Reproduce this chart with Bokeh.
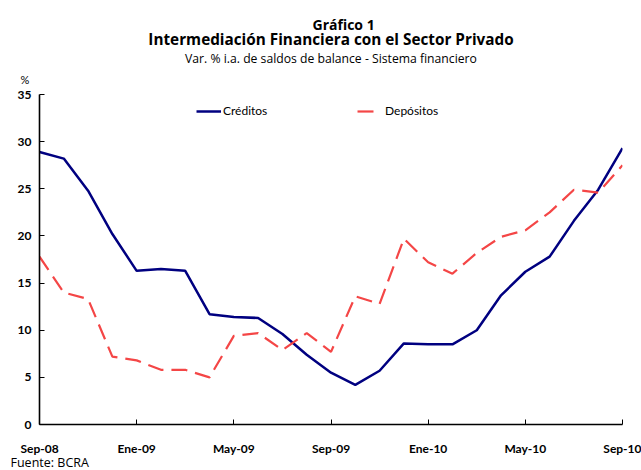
from bokeh.plotting import figure
from bokeh.models import Range1d, FixedTicker, Legend, LegendItem, Title
from bokeh.embed import file_html
from bokeh.resources import INLINE

# ---- data ----
meses = ["Sep-08", "Oct-08", "Nov-08", "Dic-08", "Ene-09", "Feb-09", "Mar-09",
         "Abr-09", "May-09", "Jun-09", "Jul-09", "Ago-09", "Sep-09", "Oct-09",
         "Nov-09", "Dic-09", "Ene-10", "Feb-10", "Mar-10", "Abr-10", "May-10",
         "Jun-10", "Jul-10", "Ago-10", "Sep-10"]
creditos = [28.9, 28.2, 24.8, 20.2, 16.3, 16.5, 16.3, 11.7, 11.4, 11.3, 9.6,
            7.4, 5.5, 4.2, 5.7, 8.6, 8.5, 8.5, 10.0, 13.7, 16.2, 17.8, 21.6,
            24.9, 29.3]
depositos = [17.8, 14.0, 13.3, 7.2, 6.8, 5.8, 5.8, 5.0, 9.4, 9.7, 7.9, 9.7,
             7.7, 13.6, 12.8, 19.7, 17.2, 16.0, 18.2, 19.9, 20.6, 22.5, 24.9,
             24.6, 27.5]
x_tick_labels = ["Sep-08", "Ene-09", "May-09", "Sep-09", "Ene-10", "May-10", "Sep-10"]
y_ticks = [0, 5, 10, 15, 20, 25, 30, 35]

FONT = "Lato"
TFONT = "Open Sans"
BLUE = "#000080"
RED = "#f44646"

x = list(range(len(meses)))
x_ticks = [meses.index(t) for t in x_tick_labels]

p = figure(width=641, height=470, output_backend="svg", toolbar_location=None,
           x_range=Range1d(0, len(meses) - 1), y_range=Range1d(0, 35),
           min_border_left=39, min_border_right=19, min_border_top=94,
           min_border_bottom=46)
p.outline_line_color = None
p.xgrid.visible = False
p.ygrid.visible = False
p.background_fill_color = "white"
p.border_fill_color = "white"

r1 = p.line(x, creditos, line_color=BLUE, line_width=2.5)
r2 = p.line(x, depositos, line_color=RED, line_width=2.2, line_dash="16 8")

for ax in (p.xaxis[0], p.yaxis[0]):
    ax.axis_line_color = "black"
    ax.axis_line_width = 1.6
    ax.major_tick_line_color = "black"
    ax.major_tick_in = 5
    ax.major_tick_out = 0
    ax.minor_tick_line_color = None
    ax.major_label_text_font = FONT
    ax.major_label_text_font_style = "bold"
    ax.major_label_text_font_size = "12px"
    ax.major_label_text_color = "black"

p.xaxis.ticker = FixedTicker(ticks=x_ticks)
p.xaxis.major_label_overrides = {t: l for t, l in zip(x_ticks, x_tick_labels)}
p.xaxis.major_label_standoff = 16
p.yaxis.ticker = FixedTicker(ticks=y_ticks)
p.yaxis.major_label_standoff = 8

# legends
common = dict(padding=0, margin=0, border_line_alpha=0, background_fill_alpha=0,
              label_text_font=FONT, label_text_font_size="12px",
              label_text_color="black", glyph_height=14, label_height=14,
              orientation="horizontal")
leg1 = Legend(items=[LegendItem(label="Créditos", renderers=[r1])],
              location=(157, 306), glyph_width=25, label_standoff=2, **common)
leg2 = Legend(items=[LegendItem(label="Depósitos", renderers=[r2])],
              location=(318, 306), glyph_width=17, label_standoff=11, **common)
p.add_layout(leg1)
p.add_layout(leg2)

# titles: first added sits closest to the frame
def title(text, size, font=FONT, bold=False, align="center", offset=0, standoff=0,
          place="above", valign="bottom"):
    p.add_layout(Title(text=text, text_font=font, text_font_size=size,
                       text_font_style="bold" if bold else "normal",
                       text_color="black", align=align, offset=offset,
                       standoff=standoff, vertical_align=valign), place)

title("%", "11px", align="left", offset=-19, standoff=18)
title("Var. % i.a. de saldos de balance - Sistema financiero", "12.2px", font=TFONT, standoff=-10)
title("Intermediación Financiera con el Sector Privado", "15.3px", font=TFONT, bold=True, standoff=8)
title("Gráfico 1", "14px", font=TFONT, bold=True, align="left", offset=273, standoff=-22)
title("Fuente: BCRA", "12.5px", font=TFONT, align="left", offset=-29, standoff=-10,
      place="below", valign="top")

open("out.html", "w").write(file_html(p, INLINE))
